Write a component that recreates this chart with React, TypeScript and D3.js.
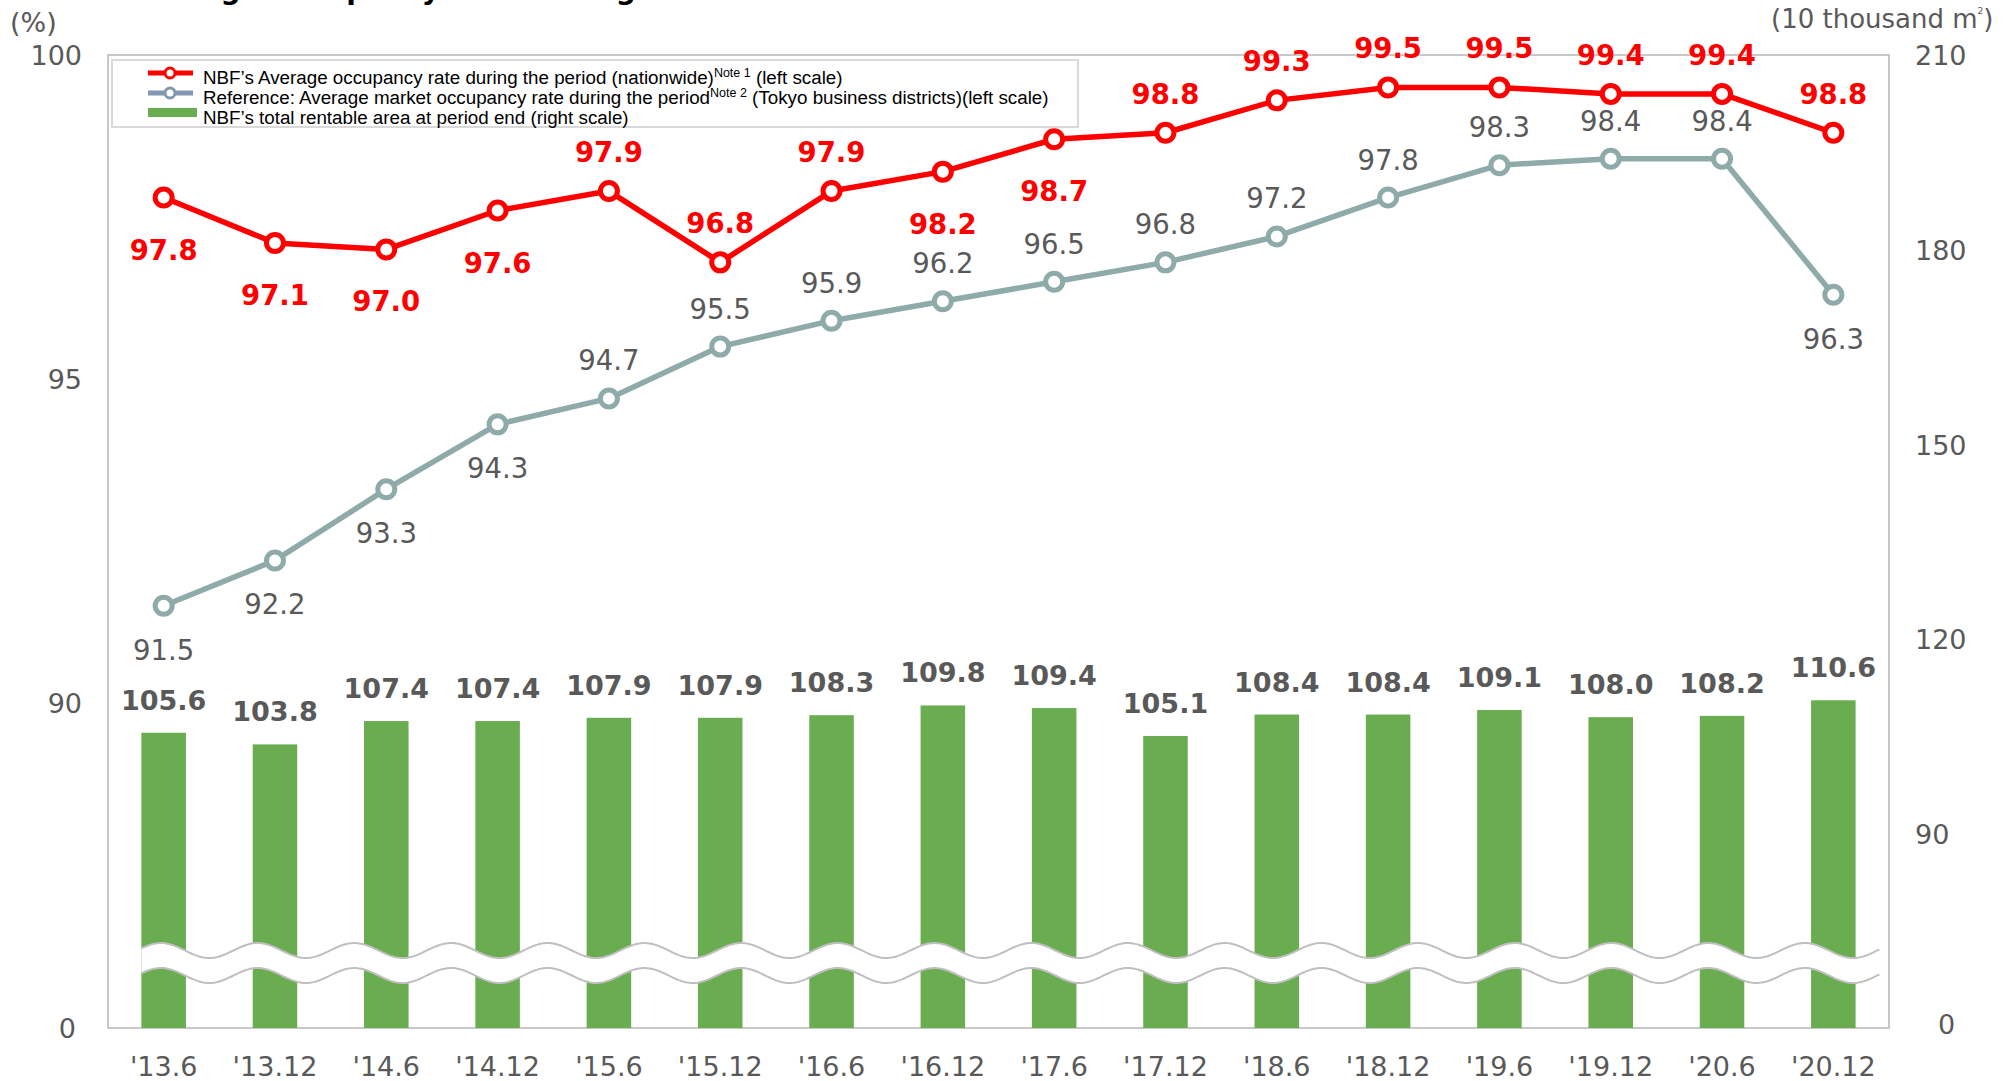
import React from "react";
import * as d3 from "d3";

// period-end labels
const periods = [
  "'13.6", "'13.12", "'14.6", "'14.12", "'15.6", "'15.12", "'16.6", "'16.12",
  "'17.6", "'17.12", "'18.6", "'18.12", "'19.6", "'19.12", "'20.6", "'20.12",
];

// NBF average occupancy rate (nationwide), %
const nbfRate = [97.8, 97.1, 97.0, 97.6, 97.9, 96.8, 97.9, 98.2, 98.7, 98.8, 99.3, 99.5, 99.5, 99.4, 99.4, 98.8];

// market average occupancy rate (Tokyo business districts), %
const marketRate = [91.5, 92.2, 93.3, 94.3, 94.7, 95.5, 95.9, 96.2, 96.5, 96.8, 97.2, 97.8, 98.3, 98.4, 98.4, 96.3];

// NBF total rentable area at period end, 10 thousand m2
const rentableArea = [105.6, 103.8, 107.4, 107.4, 107.9, 107.9, 108.3, 109.8, 109.4, 105.1, 108.4, 108.4, 109.1, 108.0, 108.2, 110.6];

// where each data label sits relative to its point
const nbfLabelSide = ["b", "b", "b", "b", "a", "a", "a", "b", "b", "a", "a", "a", "a", "a", "a", "a"];
const marketLabelSide = ["b", "b", "b", "b", "a", "a", "a", "a", "a", "a", "a", "a", "a", "a", "a", "b"];

const leftTicks = [0, 90, 95, 100];
const rightTicks = [0, 90, 120, 150, 180, 210];

const W = 2005;
const H = 1081;
const plot = { left: 108, right: 1889, top: 55, bottom: 1028 };

const RED = "#ff0000";
const GREY = "#8eabaa";
const GREEN = "#6aac50";
const TEXT = "#595959";
const FONT = "'DejaVu Sans', Verdana, sans-serif";
const LEGEND_FONT = "'Liberation Sans', Arial, sans-serif";

export default function App() {
  const x = d3
    .scaleBand()
    .domain(periods)
    .range([plot.left, plot.right])
    .paddingInner(0.6)
    .paddingOuter(0.3);
  const cx = (p) => x(p) + x.bandwidth() / 2;

  // broken axes: compressed below 90
  const yLeft = d3.scaleLinear().domain([0, 90, 100]).range([plot.bottom, 703, plot.top]);
  const yRight = d3.scaleLinear().domain([0, 90, 210]).range([plot.bottom, 834, plot.top]);

  const line = (vals) =>
    d3
      .line()
      .x((_, i) => cx(periods[i]))
      .y((d) => yLeft(d))(vals);

  // wavy axis-break band
  const waveStart = x(periods[0]);
  const waveEnd = plot.right - 9;
  const period = 96.7;
  const peakX = waveStart + 19.5;
  const waveMid = plot.bottom - 65;
  const wave = (offset) => {
    const pts = [];
    for (let px = waveStart; px <= waveEnd; px += 2) {
      pts.push([px, waveMid + offset - 7.5 * Math.cos((2 * Math.PI * (px - peakX)) / period)]);
    }
    return pts;
  };
  const upper = wave(-12.5);
  const lower = wave(12.5);
  const bandPath = d3.line()([...upper, ...lower.slice().reverse()]) + "Z";

  return (
    <svg
      width={W}
      height={H}
      style={{ position: "absolute", left: 0, top: 0, background: "#fff" }}
      fontFamily={FONT}
    >
      {/* title, clipped at top edge as in the source */}
      <text x={130} y={-1} fontSize={28} fontWeight="bold" fill="#000">
        Average Occupancy Rate during the Period
      </text>

      {/* unit labels */}
      <text x={10} y={32} fontSize={27} fill={TEXT}>(%)</text>
      <text x={1771} y={28} fontSize={26} fill={TEXT}>
        (10 thousand m
        <tspan fontSize={9} dy={-14}>2</tspan>
        <tspan dy={14}>)</tspan>
      </text>

      {/* plot frame */}
      <rect
        x={plot.left}
        y={plot.top}
        width={plot.right - plot.left}
        height={plot.bottom - plot.top}
        fill="none"
        stroke="#c8c8c8"
        strokeWidth={2}
      />

      {/* left axis */}
      {leftTicks.map((t) => (
        <text key={"l" + t} x={t === 0 ? 76 : 82} y={yLeft(t) + 10} textAnchor="end" fontSize={27} fill={TEXT}>
          {t}
        </text>
      ))}

      {/* right axis */}
      {rightTicks.map((t) => (
        <text key={"r" + t} x={t === 0 ? 1938 : 1915} y={(t === 0 ? yRight(t) - 4 : yRight(t)) + 10} fontSize={27} fill={TEXT}>
          {t}
        </text>
      ))}

      {/* bars */}
      {rentableArea.map((v, i) => (
        <rect
          key={"bar" + i}
          x={x(periods[i])}
          y={yRight(v)}
          width={x.bandwidth()}
          height={plot.bottom - yRight(v)}
          fill={GREEN}
        />
      ))}

      {/* axis break */}
      <path d={bandPath} fill="#fff" stroke="none" />
      <path d={d3.line()(upper)} fill="none" stroke="#bfbfbf" strokeWidth={2} />
      <path d={d3.line()(lower)} fill="none" stroke="#bfbfbf" strokeWidth={2} />

      {/* bar labels */}
      {rentableArea.map((v, i) => (
        <text
          key={"bl" + i}
          x={cx(periods[i])}
          y={yRight(v) - 33 + 10}
          textAnchor="middle"
          fontSize={27}
          fontWeight="bold"
          fill={TEXT}
        >
          {v.toFixed(1)}
        </text>
      ))}

      {/* market line */}
      <path d={line(marketRate)} fill="none" stroke={GREY} strokeWidth={5.5} strokeLinejoin="round" />
      {marketRate.map((v, i) => (
        <circle key={"mc" + i} cx={cx(periods[i])} cy={yLeft(v)} r={8.5} fill="#fff" stroke={GREY} strokeWidth={5} />
      ))}
      {marketRate.map((v, i) => (
        <text
          key={"ml" + i}
          x={cx(periods[i])}
          y={yLeft(v) + (marketLabelSide[i] === "a" ? -38 : 44) + 10}
          textAnchor="middle"
          fontSize={27.5}
          fill={TEXT}
        >
          {v.toFixed(1)}
        </text>
      ))}

      {/* NBF line */}
      <path d={line(nbfRate)} fill="none" stroke={RED} strokeWidth={5.5} strokeLinejoin="round" />
      {nbfRate.map((v, i) => (
        <circle key={"nc" + i} cx={cx(periods[i])} cy={yLeft(v)} r={8.5} fill="#fff" stroke={RED} strokeWidth={5} />
      ))}
      {nbfRate.map((v, i) => (
        <text
          key={"nl" + i}
          x={cx(periods[i])}
          y={yLeft(v) + (nbfLabelSide[i] === "a" ? -39 : 52) + 10}
          textAnchor="middle"
          fontSize={27.5}
          fontWeight="bold"
          fill={RED}
        >
          {v.toFixed(1)}
        </text>
      ))}

      {/* x axis labels */}
      {periods.map((p) => (
        <text key={"x" + p} x={cx(p)} y={1076} textAnchor="middle" fontSize={27} fill={TEXT}>
          {p}
        </text>
      ))}

      {/* legend */}
      <g fontFamily={LEGEND_FONT} fontSize={18.8} fill="#000">
        <rect x={112} y={60} width={966} height={67} fill="#fff" stroke="#d9d9d9" strokeWidth={2} />
        <line x1={148} x2={193} y1={73} y2={73} stroke={RED} strokeWidth={5} />
        <circle cx={170} cy={73} r={5} fill="#fff" stroke={RED} strokeWidth={3} />
        <line x1={148} x2={193} y1={93} y2={93} stroke="#8497b0" strokeWidth={5} />
        <circle cx={170} cy={93} r={5} fill="#fff" stroke="#8497b0" strokeWidth={3} />
        <rect x={148} y={108} width={49} height={9} fill={GREEN} />
        <text x={203} y={84}>
          NBF’s Average occupancy rate during the period (nationwide)
          <tspan fontSize={12.5} dy={-7}>Note 1</tspan>
          <tspan dy={7}> (left scale)</tspan>
        </text>
        <text x={203} y={104}>
          Reference: Average market occupancy rate during the period
          <tspan fontSize={12.5} dy={-7}>Note 2</tspan>
          <tspan dy={7}> (Tokyo business districts)(left scale)</tspan>
        </text>
        <text x={203} y={124}>NBF’s total rentable area at period end (right scale)</text>
      </g>
    </svg>
  );
}
